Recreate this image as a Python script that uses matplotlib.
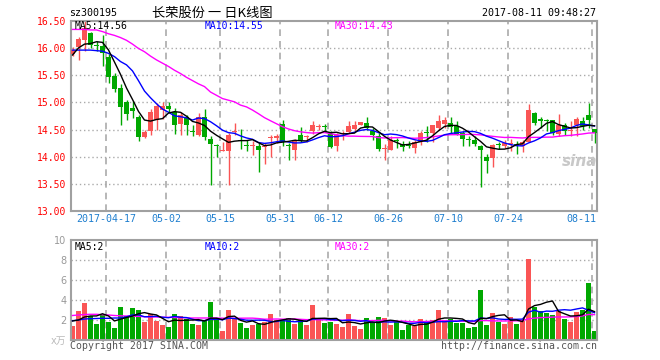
import numpy as np
import pandas as pd
import matplotlib
matplotlib.use('Agg')
import matplotlib.pyplot as plt
import matplotlib.transforms as mtransforms

# --- data (sz300195, daily K, 2017-04-07 .. 2017-08-11) ---
opens = [15.88, 16.02, 16.15, 16.27, 16.06, 16.03, 15.83, 15.48, 15.26, 15.01,
         14.90, 14.73, 14.37, 14.48, 14.67, 14.86, 14.93, 14.82, 14.60, 14.73,
         14.46, 14.41, 14.73, 14.33, 14.21, 14.11, 14.10, 14.46, 14.30, 14.21,
         14.20, 14.20, 14.18, 14.34, 14.35, 14.60, 14.21, 14.13, 14.41, 14.36,
         14.47, 14.54, 14.55, 14.42, 14.19, 14.42, 14.46, 14.51, 14.59, 14.62,
         14.48, 14.39, 14.14, 14.13, 14.31, 14.24, 14.21, 14.16, 14.27, 14.46,
         14.43, 14.53, 14.60, 14.62, 14.56, 14.44, 14.32, 14.31, 14.20, 13.99,
         13.97, 14.22, 14.19, 14.23, 14.23, 14.20, 14.28, 14.80, 14.69, 14.67,
         14.67, 14.42, 14.58, 14.48, 14.58, 14.66, 14.76, 14.51]
closes = [15.96, 16.16, 16.36, 16.05, 16.04, 15.90, 15.46, 15.25, 14.92, 14.79,
          14.85, 14.36, 14.46, 14.82, 14.94, 14.93, 14.87, 14.59, 14.76, 14.58,
          14.45, 14.73, 14.36, 14.24, 14.20, 14.12, 14.41, 14.47, 14.29, 14.20,
          14.21, 14.13, 14.20, 14.35, 14.39, 14.28, 14.20, 14.30, 14.31, 14.37,
          14.58, 14.55, 14.54, 14.18, 14.41, 14.43, 14.57, 14.59, 14.64, 14.53,
          14.41, 14.15, 14.15, 14.31, 14.30, 14.18, 14.20, 14.28, 14.44, 14.43,
          14.58, 14.66, 14.68, 14.54, 14.42, 14.33, 14.31, 14.24, 14.12, 13.92,
          14.21, 14.21, 14.25, 14.24, 14.22, 14.28, 14.86, 14.63, 14.65, 14.66,
          14.44, 14.58, 14.48, 14.49, 14.69, 14.56, 14.68, 14.43]
highs = [16.01, 16.20, 16.50, 16.30, 16.13, 16.24, 15.88, 15.54, 15.33, 15.05,
         15.02, 14.77, 14.49, 14.87, 14.99, 15.01, 15.01, 14.90, 14.82, 14.77,
         14.59, 14.80, 14.88, 14.38, 14.24, 14.28, 14.44, 14.63, 14.51, 14.31,
         14.30, 14.25, 14.25, 14.41, 14.42, 14.68, 14.25, 14.33, 14.55, 14.41,
         14.65, 14.60, 14.60, 14.47, 14.44, 14.47, 14.65, 14.66, 14.64, 14.73,
         14.53, 14.44, 14.24, 14.38, 14.35, 14.30, 14.30, 14.31, 14.47, 14.57,
         14.59, 14.76, 14.73, 14.73, 14.65, 14.47, 14.38, 14.38, 14.22, 14.05,
         14.24, 14.28, 14.31, 14.33, 14.30, 14.31, 14.97, 14.82, 14.73, 14.69,
         14.68, 14.79, 14.62, 14.66, 14.73, 14.73, 14.99, 14.51]
lows = [15.85, 15.77, 15.94, 15.99, 15.95, 15.66, 15.36, 15.19, 14.59, 14.68,
        14.72, 14.30, 14.35, 14.41, 14.50, 14.69, 14.82, 14.42, 14.41, 14.41,
        14.39, 14.38, 14.31, 13.49, 13.99, 14.10, 13.49, 14.41, 14.14, 14.10,
        14.03, 13.73, 13.86, 13.99, 14.25, 14.19, 13.95, 13.95, 14.28, 14.28,
        14.42, 14.50, 14.45, 14.16, 14.11, 14.31, 14.44, 14.47, 14.58, 14.50,
        14.31, 14.11, 13.95, 14.12, 14.16, 14.10, 14.16, 14.07, 14.21, 14.27,
        14.27, 14.50, 14.53, 14.44, 14.41, 14.19, 14.20, 14.19, 13.44, 13.71,
        13.82, 14.15, 14.17, 14.11, 14.06, 14.09, 14.27, 14.59, 14.53, 14.47,
        14.41, 14.38, 14.41, 14.39, 14.38, 14.50, 14.53, 14.25]
# volume in units of 10k lots
volumes = [1.40, 2.90, 3.73, 2.40, 1.60, 2.50, 1.80, 1.23, 3.30, 2.40,
           3.20, 3.00, 1.80, 2.60, 1.93, 1.50, 1.30, 2.60, 2.40, 2.10,
           1.60, 1.50, 1.90, 3.80, 2.10, 0.90, 3.00, 2.13, 1.70, 1.20,
           1.50, 1.63, 1.80, 2.60, 2.00, 2.00, 2.20, 1.60, 2.00, 1.50,
           3.50, 2.20, 1.70, 1.80, 1.60, 1.30, 2.60, 1.40, 1.10, 2.20,
           1.70, 2.30, 2.20, 1.50, 1.80, 1.00, 1.50, 1.40, 2.10, 1.90,
           2.00, 3.00, 2.00, 2.10, 1.70, 1.70, 1.20, 1.30, 5.00, 1.50,
           2.70, 1.80, 1.60, 2.30, 1.60, 1.90, 8.10, 3.30, 2.90, 2.70,
           2.50, 2.90, 2.10, 1.80, 2.80, 3.00, 5.70, 0.90]

# moving-average values at the left edge (history before the window)
ma5_lead = [15.87, 16.00, 16.07, 16.08]
ma10_lead = [15.96, 15.96, 15.96, 15.96, 15.95, 15.94, 15.90, 15.84, 15.75]
ma30_lead = [16.34, 16.34, 16.34, 16.33, 16.33, 16.30, 16.26, 16.23, 16.19, 16.14,
             16.07, 15.99, 15.93, 15.85, 15.78, 15.72, 15.66, 15.59, 15.53, 15.46,
             15.40, 15.34, 15.29, 15.19, 15.13, 15.07, 15.04, 15.01, 14.95]
vol_ma5_lead = [1.90, 2.00, 2.30, 2.40]
vol_ma10_lead = [1.93, 2.00, 2.10, 2.13, 2.15, 2.17, 2.17, 2.20, 2.20]
vol_ma30_lead = [2.45, 2.50, 2.55, 2.57, 2.57, 2.53, 2.50, 2.45, 2.42, 2.40,
                 2.38, 2.36, 2.33, 2.30, 2.30, 2.28, 2.27, 2.25, 2.23, 2.22,
                 2.20, 2.20, 2.20, 2.20, 2.20, 2.18, 2.18, 2.18, 2.18]

# legend values as printed on the chart
ma_names = ['MA5', 'MA10', 'MA30']
price_ma_last = [14.56, 14.55, 14.43]
vol_ma_last = [2, 2, 2]

date_idx = [6, 16, 25, 35, 43, 53, 63, 73, 87]
date_labels = ['2017-04-17', '05-02', '05-15', '05-31', '06-12',
               '06-26', '07-10', '07-24', '08-11']
price_ticks = [13.0, 13.5, 14.0, 14.5, 15.0, 15.5, 16.0, 16.5]
vol_ticks = [0, 2, 4, 6, 8, 10]
vol_tick_labels = ['x万', '2', '4', '6', '8', '10']

red = '#fa5555'
green = '#00a800'
ma_colors = ['black', '#0000ff', '#ff00ff']
grid_c = '#aaaaaa'
frame_c = '#a0a0a0'
mono = 'DejaVu Sans Mono'
plt.rcParams['font.family'] = ['DejaVu Sans Mono', 'Noto Sans CJK SC']


def moving_average(values, window, lead):
    ma = pd.Series(values).rolling(window).mean().to_numpy()
    ma[:len(lead)] = lead
    return ma


o = np.array(opens)
c = np.array(closes)
h = np.array(highs)
l = np.array(lows)
v = np.array(volumes)
x = np.arange(len(c))
cols = np.where(c >= o, red, green)

W, H = 660, 360
fig = plt.figure(figsize=(W / 100, H / 100), dpi=100)
left, right = 70.5, 597.3
ax = fig.add_axes([left / W, (H - 211.3) / H, (right - left) / W, (211.3 - 20.7) / H])
axv = fig.add_axes([left / W, (H - 340) / H, (right - left) / W, 100 / H])

x0 = (left - 72.5) / 6
x1 = (right - 72.5) / 6

for a in (ax, axv):
    a.set_xlim(x0, x1)
    for s in a.spines.values():
        s.set_color(frame_c)
        s.set_linewidth(1.5)
    a.tick_params(length=0)
    a.set_xticks([])
    for i in date_idx:
        a.axvline(i - 0.37, color=grid_c, lw=1.2, ls=(0, (4, 3)), zorder=0)

# ---- price panel ----
for y in price_ticks[1:-1]:
    ax.axhline(y, color=grid_c, lw=1, ls=(0, (1, 2)), zorder=0)
ax.vlines(x, l, h, colors=cols, lw=1, zorder=2)
ax.bar(x, np.maximum(np.abs(c - o), 0.018), bottom=np.minimum(o, c),
       width=0.83, color=cols, lw=0, zorder=3)
ma5 = moving_average(c, 5, ma5_lead)
ma10 = moving_average(c, 10, ma10_lead)
ma30 = moving_average(c, 30, ma30_lead)
for ma, col in zip([ma30, ma10, ma5], ma_colors[::-1]):
    ax.plot(x, ma, color=col, lw=1, zorder=4)
ax.set_ylim(13.0, 16.5)
ax.set_yticks(price_ticks)
ax.set_yticklabels([f'{t:.2f}' for t in price_ticks], color='red',
                   fontsize=7, family=mono)
ax.tick_params(axis='y', pad=3)

ax.text(580, 198, 'sina', transform=None, fontsize=11, color='#c8c8c8',
        style='italic', weight='bold', family='DejaVu Sans', ha='center', va='center')

# date labels below the price panel
tr = mtransforms.blended_transform_factory(ax.transData, fig.transFigure)
for i, lab in zip(date_idx, date_labels):
    if i == date_idx[-1]:
        ax.text(x1 - 0.15, 1 - 219 / H, lab, transform=tr, ha='right', va='center',
                fontsize=7.2, color='#1f7fcf', family=mono)
    else:
        ax.text(i - 0.37, 1 - 219 / H, lab, transform=tr, ha='center', va='center',
                fontsize=7.2, color='#1f7fcf', family=mono)

# ---- volume panel ----
for y in vol_ticks[1:-1]:
    axv.axhline(y, color=grid_c, lw=1, ls=(0, (1, 2)), zorder=0)
axv.bar(x, v, width=0.83, color=cols, lw=0, zorder=2)
vmas = [moving_average(v, 5, vol_ma5_lead),
        moving_average(v, 10, vol_ma10_lead),
        moving_average(v, 30, vol_ma30_lead)]
for ma, col in zip(vmas[::-1], ma_colors[::-1]):
    axv.plot(x, ma, color=col, lw=1, zorder=3)
axv.set_ylim(0, 10)
axv.set_yticks(vol_ticks)
axv.set_yticklabels(vol_tick_labels, fontsize=7, family=['DejaVu Sans', 'Noto Sans CJK SC'])
for t in axv.get_yticklabels():
    t.set_color('#999999')
axv.get_yticklabels()[0].set_color('#bbbbbb')
axv.tick_params(axis='y', pad=3)


# ---- texts ----
def ftext(px, py, s, **kw):
    fig.text(px / W, 1 - py / H, s, va='center', **kw)


ftext(69.5, 13, 'sz300195', fontsize=7.2, color='black', family=mono)
ftext(212, 13, '长荣股份 一 日K线图', fontsize=9.5, color='black', ha='center',
      family=['Noto Sans CJK SC', 'DejaVu Sans'])
ftext(596.5, 13, '2017-08-11 09:48:27', fontsize=7.2, color='black', ha='right', family=mono)

for px, name, val, col in zip([74.5, 204.5, 334.5], ma_names, price_ma_last, ma_colors):
    ftext(px, 26, f'{name}:{val:.2f}', fontsize=7, color=col, family=mono)
for px, name, val, col in zip([74.5, 204.5, 334.5], ma_names, vol_ma_last, ma_colors):
    ftext(px, 247, f'{name}:{val}', fontsize=7, color=col, family=mono)

ftext(70, 346, 'Copyright 2017 SINA.COM', fontsize=7.1, color='#555555', family=mono)
ftext(597, 346, 'http://finance.sina.com.cn', fontsize=7.1, color='#555555',
      ha='right', family=mono)

fig.savefig('out.png', dpi=100, facecolor='white')
